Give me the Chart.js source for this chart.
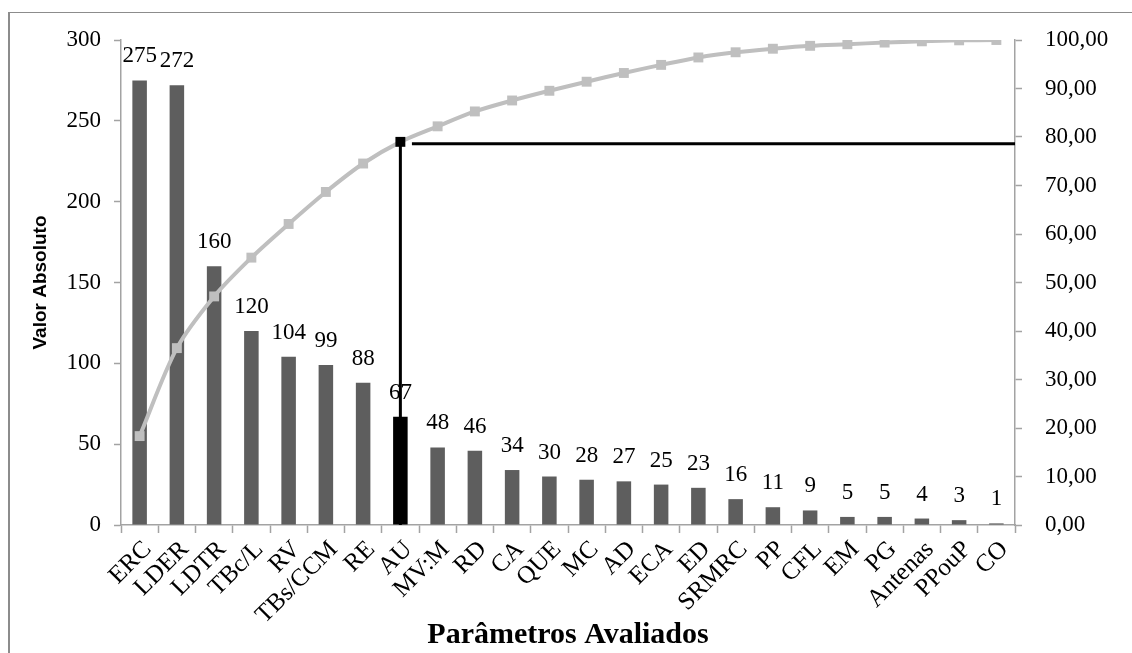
<!DOCTYPE html>
<html>
<head>
<meta charset="utf-8">
<script src="https://cdn.jsdelivr.net/npm/chart.js@4.4.1/dist/chart.umd.min.js"></script>
<style>
  body { margin: 0; background: #fff; }
  #wrap { position: relative; width: 1132px; height: 653px; overflow: hidden; }
  #moldura { position: absolute; left: 8px; top: 12px; width: 1200px; height: 700px;
             border-left: 2px solid #8c8c8c; border-top: 1px solid #8c8c8c; pointer-events: none; }
</style>
</head>
<body>
<div id="wrap">
  <canvas id="pareto" width="1132" height="653"></canvas>
  <div id="moldura"></div>
</div>
<script>
// parametros avaliados (eixo x)
const categorias = ['ERC', 'LDER', 'LDTR', 'TBc/L', 'RV', 'TBs/CCM', 'RE', 'AU', 'MV:M', 'RD', 'CA', 'QUE',
  'MC', 'AD', 'ECA', 'ED', 'SRMRC', 'PP', 'CFL', 'EM', 'PG', 'Antenas', 'PPouP', 'CO'];
// valor absoluto (barras)
const valores = [275, 272, 160, 120, 104, 99, 88, 67, 48, 46, 34, 30, 28, 27, 25, 23, 16, 11, 9, 5, 5, 4, 3, 1];
// percentual acumulado (linha)
const acumulado = [18.33, 36.47, 47.13, 55.13, 62.07, 68.67, 74.53, 79.00, 82.20, 85.27, 87.53, 89.53,
  91.40, 93.20, 94.87, 96.40, 97.47, 98.20, 98.80, 99.13, 99.47, 99.73, 99.93, 100.00];
const ticksEsq = [0, 50, 100, 150, 200, 250, 300];
const ticksDir = [0, 10, 20, 30, 40, 50, 60, 70, 80, 90, 100];

// linhas de corte (~80%)
const destaque = 'AU';
const iDestaque = categorias.indexOf(destaque);
const corteVertical = [{ x: iDestaque, y: 0 }, { x: iDestaque, y: acumulado[iDestaque] }];
const corteHorizontal = [{ x: iDestaque + 0.31, y: 78.6 }, { x: categorias.length - 0.5, y: 78.6 }];

const corBarra = '#5e5e5e';
const corLinha = '#bfbfbf';
const corEixo = '#a3a3a3';
const fonteSerif = '"Liberation Serif", "Times New Roman", serif';

// rotulos em cima das barras
const rotulosPlugin = {
  id: 'rotulos',
  afterDatasetsDraw(chart) {
    const meta = chart.getDatasetMeta(0);
    const ctx = chart.ctx;
    ctx.save();
    ctx.font = '23px ' + fonteSerif;
    ctx.fillStyle = '#000';
    ctx.textAlign = 'center';
    ctx.textBaseline = 'alphabetic';
    meta.data.forEach((bar, i) => {
      ctx.fillText(String(valores[i]), bar.x, bar.y - 18);
    });
    ctx.restore();
  }
};

const ctx = document.getElementById('pareto').getContext('2d');
new Chart(ctx, {
  data: {
    labels: categorias,
    datasets: [
      {
        type: 'bar',
        data: valores,
        backgroundColor: categorias.map(c => c === destaque ? '#000' : corBarra),
        grouped: false,
        barPercentage: 0.39,
        categoryPercentage: 1,
        yAxisID: 'y',
        order: 3
      },
      {
        type: 'line',
        data: acumulado,
        borderColor: corLinha,
        borderWidth: 4,
        tension: 0.3,
        pointStyle: 'rect',
        pointRadius: 7,
        pointBorderWidth: 0,
        pointBackgroundColor: categorias.map(c => c === destaque ? '#000' : corLinha),
        yAxisID: 'y2',
        order: 2
      },
      {
        type: 'line',
        data: corteVertical,
        borderColor: '#000',
        borderWidth: 3,
        pointRadius: 0,
        xAxisID: 'xl',
        yAxisID: 'y2',
        order: 1
      },
      {
        type: 'line',
        data: corteHorizontal,
        borderColor: '#000',
        borderWidth: 3,
        pointRadius: 0,
        xAxisID: 'xl',
        yAxisID: 'y2',
        order: 1
      }
    ]
  },
  options: {
    responsive: false,
    animation: false,
    layout: { padding: { top: 40, left: 0, right: 0, bottom: 0 } },
    plugins: {
      legend: { display: false },
      tooltip: { enabled: false }
    },
    scales: {
      x: {
        offset: true,
        grid: { offset: true, drawOnChartArea: false, color: corEixo, tickLength: 8, tickWidth: 1.5 },
        border: { color: corEixo, width: 1.5 },
        ticks: {
          autoSkip: false, minRotation: 45, maxRotation: 45, padding: 2, labelOffset: 8,
          color: '#000', font: { family: fonteSerif, size: 25 }
        },
        title: {
          display: true, text: 'Parâmetros Avaliados', color: '#000',
          font: { family: fonteSerif, size: 30, weight: 'bold' }, padding: 0
        },
        afterFit(scale) { scale.height = 128; }
      },
      xl: {
        type: 'linear', display: false,
        min: -0.5, max: categorias.length - 0.5
      },
      y: {
        position: 'left',
        min: 0, max: 300,
        afterBuildTicks(scale) { scale.ticks = ticksEsq.map(v => ({ value: v })); },
        grid: { drawOnChartArea: false, color: corEixo, tickLength: 7, tickWidth: 1.5 },
        border: { color: corEixo, width: 1.5 },
        ticks: { padding: 13, color: '#000', font: { family: fonteSerif, size: 23 } },
        title: {
          display: true, text: 'Valor Absoluto', color: '#000',
          font: { family: '"Liberation Sans", Arial, sans-serif', size: 19, weight: 'bold' }, padding: 29
        },
        afterFit(scale) { scale.width = 121; }
      },
      y2: {
        position: 'right',
        min: 0, max: 100,
        afterBuildTicks(scale) { scale.ticks = ticksDir.map(v => ({ value: v })); },
        grid: { drawOnChartArea: false, color: corEixo, tickLength: 7, tickWidth: 1.5 },
        border: { color: corEixo, width: 1.5 },
        ticks: {
          padding: 23, color: '#000', font: { family: fonteSerif, size: 23 },
          callback: v => v.toFixed(2).replace('.', ',')
        },
        afterFit(scale) { scale.width = 117; }
      }
    }
  },
  plugins: [rotulosPlugin]
});
</script>
</body>
</html>
